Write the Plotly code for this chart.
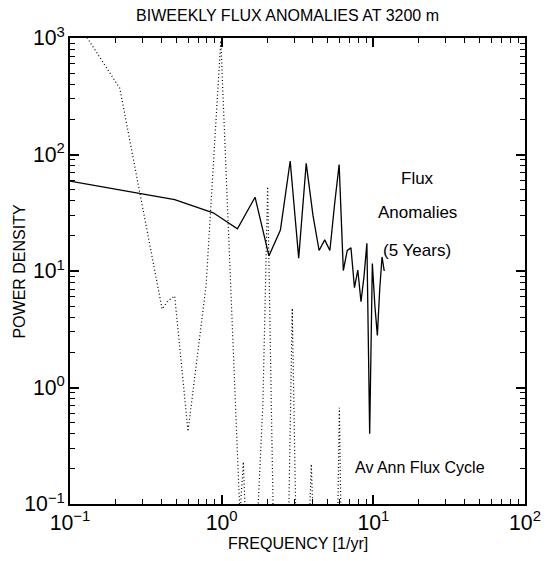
import plotly.graph_objects as go

# Solid: flux anomalies (5 years)
anom_freq = [0.10, 0.49, 0.88, 1.27, 1.66, 2.05, 2.44, 2.83, 3.22, 3.61, 4.00,
             4.39, 4.78, 5.17, 5.56, 5.95, 6.34, 6.73, 7.12, 7.51, 7.90, 8.29,
             8.68, 9.07, 9.46, 9.85, 10.24, 10.63, 11.02, 11.41, 11.80]
anom_power = [59, 41, 31.6, 23, 43, 13.5, 22.5, 88, 12.9, 84, 30,
              15, 18.5, 15, 38, 82, 10.1, 15, 15.8, 7.2, 10.2, 5.45,
              9, 17.3, 0.4, 11.6, 5, 2.8, 7, 13.2, 10]

# Dotted: average annual flux cycle
cyc_freq = [0.10, 0.213, 0.405, 0.44, 0.49, 0.60, 0.79, 0.987, 1.32, 1.39, 1.45,
            1.70, 1.87, 2.01, 2.20, 2.75, 2.92, 3.10, 3.75, 3.90, 4.05,
            5.80, 5.97, 6.15]
cyc_power = [1700, 370, 4.7, 5.5, 6.1, 0.42, 7.6, 950, 0.08, 0.23, 0.05,
             0.05, 0.73, 53, 0.05, 0.05, 4.8, 0.05, 0.05, 0.22, 0.05,
             0.05, 0.67, 0.05]

# tick label aliases so every decade reads as a power of ten
tick_alias = {"1": "10<sup>0</sup>", "10": "10<sup>1</sup>"}

font = "Liberation Sans, Arial, Helvetica, sans-serif"

fig = go.Figure()
fig.add_trace(go.Scatter(x=cyc_freq, y=cyc_power, mode="lines",
                         line=dict(color="black", width=1.2, dash="1px,2.5px"),
                         showlegend=False))
fig.add_trace(go.Scatter(x=anom_freq, y=anom_power, mode="lines",
                         line=dict(color="black", width=1.3),
                         showlegend=False))

axis_common = dict(
    type="log", showgrid=False, zeroline=False,
    showline=True, linecolor="black", linewidth=1.5, mirror="allticks",
    tickmode="linear", tick0=0, dtick=1, exponentformat="power", showexponent="all",
    labelalias=tick_alias,
    ticks="inside", ticklen=9, tickcolor="black", tickwidth=1.5,
    minor=dict(ticks="inside", ticklen=5, tickcolor="black", tickwidth=1.2, showgrid=False),
    tickfont=dict(family=font, size=17, color="black"),
)

fig.update_xaxes(range=[-1, 2], **axis_common)
fig.update_yaxes(range=[-1, 3], **axis_common)

anno_font = dict(family=font, size=17, color="black")
fig.add_annotation(x=1.29, y=1.798, xref="x", yref="y", showarrow=False,
                   text="Flux", font=anno_font)
fig.add_annotation(x=1.29, y=1.498, xref="x", yref="y", showarrow=False,
                   text="Anomalies", font=anno_font)
fig.add_annotation(x=1.29, y=1.18, xref="x", yref="y", showarrow=False,
                   text="(5 Years)", font=anno_font)
fig.add_annotation(x=1.31, y=-0.69, xref="x", yref="y", showarrow=False,
                   text="Av Ann Flux Cycle", font=dict(family=font, size=16, color="black"))
fig.add_annotation(x=0.5, y=-0.085, xref="paper", yref="paper", showarrow=False,
                   text="FREQUENCY [1/yr]", xanchor="center", yanchor="middle",
                   font=dict(family=font, size=16, color="black"))
fig.add_annotation(x=-0.113, y=0.5, xref="paper", yref="paper", showarrow=False,
                   text="POWER DENSITY", textangle=-90, xanchor="center", yanchor="middle",
                   font=dict(family=font, size=16, color="black"))

fig.update_layout(
    template="simple_white",
    width=553, height=561,
    margin=dict(l=70, r=16, t=38, b=57),
    paper_bgcolor="white", plot_bgcolor="white",
    title=dict(text="BIWEEKLY FLUX ANOMALIES AT 3200 m", x=0.52, xanchor="center",
               y=0.972, yanchor="middle",
               font=dict(family=font, size=16, color="black")),
)

fig.write_html("out.html")
